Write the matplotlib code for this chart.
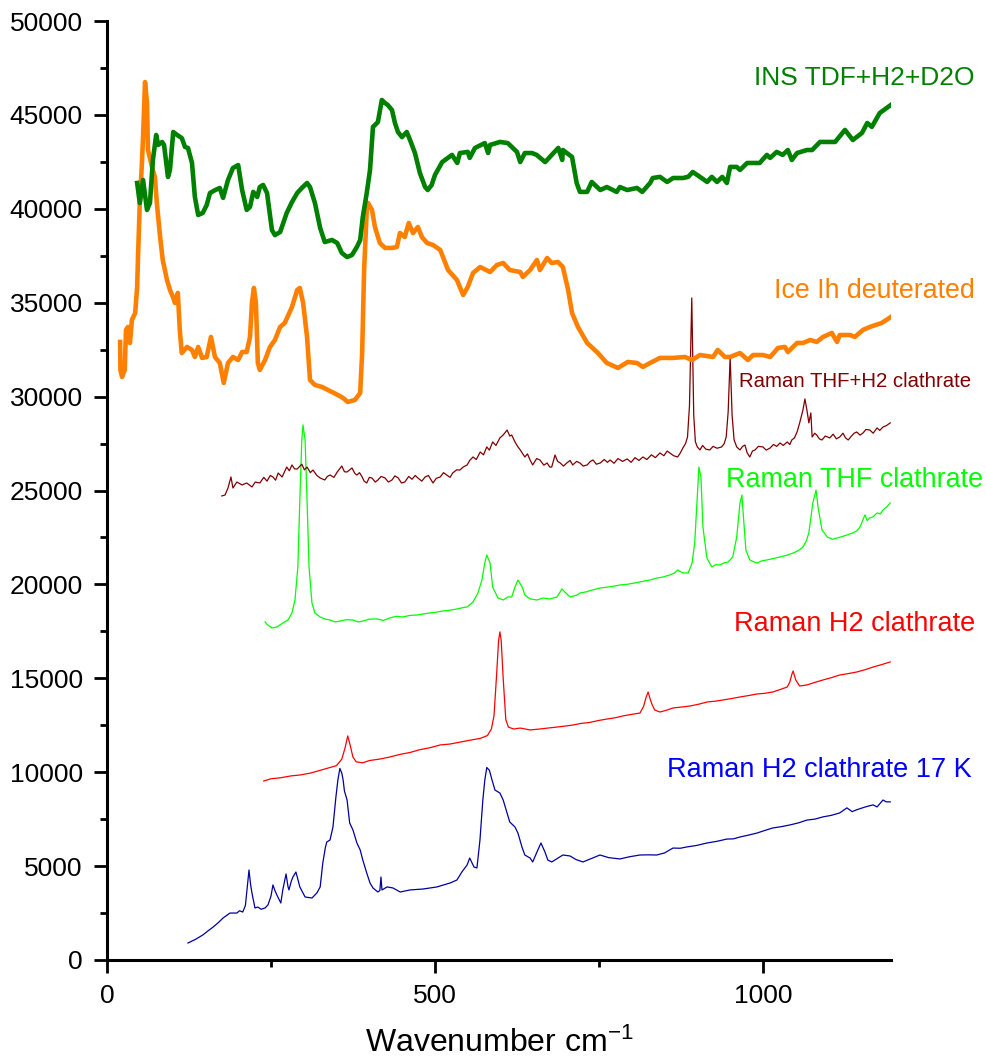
import matplotlib
matplotlib.use("Agg")
import matplotlib.pyplot as plt
from matplotlib.ticker import MultipleLocator

plt.rcParams['font.family'] = ['Liberation Sans', 'DejaVu Sans']
plt.rcParams['mathtext.default'] = 'regular'
plt.rcParams['axes.unicode_minus'] = False

# INS TDF+H2+D2O (green)
ins_x = [46, 50, 55, 61, 65.5, 70, 75, 78, 84, 87, 93, 96, 101, 107, 114, 119, 123.5, 129.6, 134, 139,
         146, 152, 157, 165, 172, 177, 184.5, 192, 200, 206, 213, 218, 223, 229, 233, 238, 244, 251.5, 256, 264,
         274, 282, 290, 297, 305, 309.5, 317, 325, 332, 343, 351, 358, 366, 373.5, 381, 386, 390, 396, 401, 405.5,
         411.6, 413, 419, 424, 428, 434.5, 439, 443.6, 449.7, 457, 462, 469.5, 477, 485, 489, 495, 500, 511, 526, 534,
         538, 550, 553, 561, 576, 581, 584, 599, 611, 625, 630, 637, 648, 655, 668, 678, 688, 694, 695, 709,
         716, 721, 732, 739, 752, 762, 777, 782, 793, 808, 816, 828, 832, 843, 854, 863, 878, 886, 893, 904,
         915, 922, 930, 938, 945, 950, 960, 965, 976, 995, 1006, 1011, 1021, 1030, 1038, 1044, 1052, 1067, 1075, 1087,
         1110, 1125, 1137, 1151, 1159, 1166, 1178, 1195]
ins_y = [41375, 40310, 41535, 39940, 40310, 42600, 43930, 43400, 43560, 43400, 41695, 42070, 44090, 43930, 43770, 43290, 43240, 42440, 40630, 39670,
         39780, 40200, 40840, 41000, 41110, 40580, 41535, 42170, 42330, 41000, 39940, 40100, 40900, 40630, 41160, 41270, 40840, 38870, 38600, 38765,
         39780, 40360, 40840, 41110, 41375, 41160, 40310, 38980, 38230, 38340, 38180, 37650, 37430, 37540, 37970, 38340, 39565, 40840, 42070, 44360,
         44570, 44620, 45795, 45630, 45530, 45260, 44570, 44090, 43820, 44090, 43665, 42970, 41910, 41160, 41000, 41270, 41800, 42490, 42870, 42440,
         42970, 43030, 42710, 43240, 43500, 42970, 43400, 43560, 43500, 43030, 42490, 42970, 42970, 42870, 42490, 42870, 43240, 42600, 43130, 42760,
         41375, 40900, 40900, 41430, 41000, 41160, 40900, 41160, 41000, 41110, 40900, 41375, 41640, 41700, 41430, 41640, 41640, 41700, 41960, 41700,
         41430, 41700, 41430, 41700, 41375, 42230, 42230, 42070, 42440, 42440, 42870, 42710, 43030, 42870, 43130, 42600, 42970, 43130, 43130, 43560,
         43560, 44200, 43665, 44040, 44570, 44360, 45100, 45530]

# Ice Ih deuterated (orange)
ice_x = [20, 20.5, 23, 27, 29, 32, 35, 38, 43, 46, 47.3, 50, 53, 55, 58, 61, 62.5, 68.6, 73, 76,
         81, 85, 91.5, 96, 100.6, 103.7, 108, 111, 114, 122, 129.6, 134, 139, 145, 152, 158.5, 164.6, 172, 178, 184.5,
         192, 200, 206, 213, 218, 221, 224, 227, 230, 233, 241, 248.5, 256, 264, 271, 282, 290, 294, 299, 305,
         309.5, 317, 328, 343, 352, 360, 367, 378, 386, 389, 392, 396, 398, 404, 408.5, 416, 424, 434.5, 442, 446.6,
         454, 460, 466.5, 474, 480, 488, 497, 508, 520, 533.5, 543, 550, 558, 569, 584, 594.5, 604, 614, 630, 634,
         645, 655.5, 660, 671, 678, 687.5, 695, 703, 709, 718, 732, 748.5, 762, 779, 794, 808, 817, 828, 843, 863,
         881, 892, 904, 924, 931, 942, 950, 965, 977, 985, 1000, 1011, 1023, 1033.5, 1038, 1052, 1061, 1072, 1082, 1091.5,
         1105, 1113, 1117, 1133, 1140, 1152.5, 1163, 1181, 1195]
ice_y = [32910, 31420, 31045, 31420, 33550, 33710, 32855, 34080, 34450, 35840, 37435, 40310, 42230, 43820, 46750, 45630, 43130, 42230, 41700, 40310,
         38500, 37275, 36210, 35680, 35300, 34985, 35520, 33550, 32320, 32645, 32485, 32110, 32645, 32060, 32110, 33175, 32110, 31790, 30725, 31790,
         32110, 31950, 32375, 32375, 33175, 34985, 35785, 34985, 31790, 31420, 31950, 32645, 33015, 33710, 33920, 34770, 35680, 35785, 34985, 33175,
         30885, 30620, 30510, 30245, 30085, 29925, 29715, 29820, 30195, 32320, 36740, 39940, 40310, 39940, 39030, 38180, 37915, 37915, 37970, 38710,
         38500, 39245, 38710, 39030, 38500, 38180, 38075, 37810, 36740, 36210, 35410, 35840, 36580, 36900, 36635, 37010, 37115, 36740, 36635, 36370,
         36740, 37275, 36740, 37380, 37115, 37170, 36900, 35680, 34450, 33710, 32855, 32320, 31790, 31525, 31845, 31790, 31580, 31790, 32060, 32060,
         32110, 31950, 32215, 32110, 32485, 32110, 32110, 32320, 31950, 32215, 32215, 32110, 32590, 32645, 32375, 32855, 32855, 33015, 32910, 33175,
         33390, 32910, 33280, 33280, 33175, 33550, 33710, 33920, 34240]

# Raman THF+H2 clathrate (dark red)
thfh2_x = [175, 180, 184.5, 189, 192, 198, 206, 213, 221, 226, 233, 239, 244, 249, 253, 257, 261, 267, 274, 278,
           282, 286, 290, 297, 301, 305, 310, 314, 320, 325, 332, 336, 340, 346, 351, 358, 362, 366, 373.5, 378,
           381, 385, 389, 392, 396, 400, 404, 409, 413, 418, 424, 429, 434.5, 439, 444, 449, 454, 460, 465, 470,
           474, 480, 485, 490, 497, 502, 508, 513, 518, 523, 527, 533, 538, 543, 549, 553, 558, 563, 569, 574,
           579, 583, 588, 593, 599, 604, 610, 614, 617, 622, 626, 630, 637, 641, 645, 649, 655, 660, 666, 671,
           675, 678, 683, 687, 691, 696, 701, 706, 710, 716, 721, 726, 732, 737, 741, 746, 752, 758, 763, 767,
           773, 779, 786, 793, 799, 805, 811, 817, 823, 830, 836, 843, 849, 854, 858, 864, 870, 874, 878, 882,
           885, 888, 891.5, 894.5, 897, 900, 904, 908, 913, 919, 924, 930, 937, 941, 944, 947, 950, 953, 956, 960,
           965, 969, 972.6, 976, 980, 984, 988, 993, 1000, 1005, 1011, 1016, 1021, 1026, 1031, 1037, 1041, 1044, 1048, 1052,
           1056, 1059, 1061, 1064, 1067, 1070, 1073, 1075, 1079, 1082, 1086, 1090, 1095, 1102, 1107, 1112, 1117, 1122, 1126, 1130,
           1135, 1139, 1143, 1148, 1152.5, 1157, 1163, 1168, 1174, 1178, 1183, 1188, 1194]
thfh2_y = [24710, 24760, 25135, 25720, 25135, 25450, 25295, 25400, 25190, 25450, 25400, 25700, 25500, 25800, 25720, 25550, 25930, 25720, 26250, 26050,
           26360, 26150, 26145, 26400, 26100, 26250, 25950, 26090, 25800, 25665, 25560, 25750, 25825, 25700, 25985, 26305, 26000, 25985, 26200, 25900,
           25825, 25950, 25720, 25500, 25400, 25700, 25665, 25450, 25560, 25750, 25665, 25450, 25560, 25780, 25665, 25400, 25450, 25750, 25600, 25800,
           25665, 25500, 25720, 25800, 25400, 25650, 25720, 25950, 25825, 25700, 25930, 26100, 26090, 26250, 26360, 26600, 26785, 26650, 27050, 26900,
           27320, 27150, 27585, 27400, 27800, 27955, 28220, 27900, 27955, 27585, 27350, 27160, 26785, 26950, 26625, 26360, 26700, 26625, 26350, 26465,
           26250, 26250, 26890, 26550, 26465, 26300, 26465, 26600, 26360, 26550, 26465, 26300, 26360, 26550, 26625, 26400, 26465, 26650, 26500, 26625,
           26450, 26700, 26550, 26680, 26500, 26750, 26600, 26785, 26650, 26900, 26750, 27000, 26850, 27100, 27000, 26850, 26785, 27000, 27265, 27500,
           27850, 29500, 35250, 29000, 27600, 27320, 27160, 27400, 27200, 27160, 27350, 27250, 27320, 27500, 27850, 29200, 32110, 29000, 27700, 27320,
           27160, 27350, 27420, 27000, 26785, 27100, 27160, 27350, 27320, 27150, 27265, 27450, 27350, 27530, 27400, 27585, 27450, 27690, 27800, 28115,
           28600, 29000, 29290, 29875, 29290, 28600, 29130, 27850, 28050, 27955, 27750, 27690, 27900, 27800, 28000, 27750, 27850, 28050, 27800, 27690,
           27900, 28050, 28115, 27950, 28060, 28250, 28220, 28050, 28330, 28200, 28380, 28450, 28600]

# Raman THF clathrate (lime)
thf_x = [241, 245, 251.5, 259, 268, 276, 282, 286.6, 291, 294, 297, 298.8, 302, 305, 308, 312.5, 317, 325, 333, 340,
         348, 355, 365, 375, 383, 390, 400, 412, 421, 431, 441, 451, 462, 473, 482, 492, 502, 512, 522, 533.5,
         542, 549, 558, 565.5, 571.6, 576, 579, 584, 588, 596, 604, 611, 617, 622, 626.5, 633, 637, 645, 655.5, 665,
         675, 686, 693.6, 698, 706, 716.5, 721, 730, 740, 752, 762, 772, 782, 792, 802, 812.5, 822, 830, 838, 846,
         858, 865, 870, 878, 886, 892, 896, 899.4, 902.4, 905.5, 908.5, 914.6, 922, 928, 934.5, 941, 947, 954, 960, 965,
         968, 969.5, 974, 980, 986, 991, 998, 1006, 1016, 1026, 1036, 1046, 1054, 1061, 1066, 1070, 1076, 1081, 1084, 1090,
         1098, 1106, 1113, 1121, 1128, 1137, 1143, 1148, 1155.5, 1159, 1163, 1168, 1174, 1179, 1183, 1188, 1194]
thf_y = [18000, 17840, 17680, 17730, 17945, 18105, 18480, 19170, 20930, 24495, 27690, 28490, 27690, 24495, 20930, 19010, 18480, 18265, 18150, 18105,
         18000, 18050, 18120, 18105, 18000, 18050, 18150, 18160, 18080, 18210, 18300, 18265, 18350, 18370, 18420, 18480, 18520, 18585, 18620, 18690,
         18760, 18800, 19065, 19540, 20235, 21140, 21565, 21140, 19860, 19275, 19170, 19330, 19330, 19860, 20235, 19860, 19435, 19225, 19170, 19275,
         19225, 19330, 19755, 19595, 19330, 19435, 19540, 19600, 19700, 19810, 19850, 19900, 19970, 20000, 20060, 20130, 20200, 20250, 20340, 20380,
         20500, 20600, 20765, 20610, 20610, 21140, 22205, 24335, 26250, 25720, 23060, 21405, 20930, 21050, 21035, 21150, 21195, 21460, 22525, 24335,
         24760, 23965, 21830, 21300, 21200, 21140, 21250, 21300, 21380, 21460, 21550, 21670, 21800, 21990, 22300, 22740, 24335, 25025, 24120, 22900,
         22525, 22400, 22470, 22550, 22630, 22740, 22850, 23060, 23700, 23400, 23540, 23600, 23805, 23750, 23965, 24100, 24335]

# Raman H2 clathrate (red)
h2_x = [239, 250, 264, 280, 294, 310, 325, 340, 350, 358, 363, 367, 371, 375, 380, 390, 400, 416, 430, 447,
        462, 477, 492, 508, 523, 538, 553, 569, 580, 586, 590, 594, 597, 599, 601, 604, 608, 612, 620, 630,
        645, 660, 672, 685, 697, 710, 723, 736, 749, 762, 775, 787, 800, 812.5, 818, 822, 825, 828, 831, 835,
        843, 853, 863, 876, 889, 902, 915, 927, 939, 952, 965, 978, 991, 1003, 1015, 1026, 1037, 1041, 1044, 1046,
        1048, 1050, 1056, 1067, 1079, 1091.5, 1104, 1117, 1130, 1143, 1155, 1168, 1181, 1194]
h2_y = [9530, 9650, 9700, 9800, 9850, 9950, 10100, 10250, 10350, 10700, 11300, 11930, 11400, 10800, 10550, 10500, 10620, 10700, 10800, 10950,
        11050, 11200, 11300, 11450, 11500, 11600, 11700, 11800, 11950, 12300, 13000, 15200, 17000, 17470, 17000, 15000, 12800, 12400, 12300, 12350,
        12250, 12300, 12350, 12400, 12450, 12510, 12600, 12650, 12750, 12830, 12900, 13000, 13080, 13150, 13500, 14000, 14270, 13900, 13600, 13310,
        13205, 13300, 13420, 13470, 13525, 13620, 13740, 13780, 13845, 13920, 14005, 14080, 14165, 14200, 14270, 14400, 14535, 14800, 15200, 15390,
        15150, 14910, 14590, 14645, 14780, 14910, 15030, 15175, 15250, 15335, 15450, 15600, 15730, 15870]

# Raman H2 clathrate 17 K (blue)
h2k_x = [123.5, 135, 146, 154, 162, 170, 177, 187.5, 198, 202, 207, 211, 213.4, 216.5, 219, 221, 225.6, 230, 235, 241,
         245.4, 250, 253, 256, 259, 265, 268, 273, 276, 277.4, 281, 283.5, 288, 291, 294, 302, 312.5, 320, 325, 329,
         333, 335, 340, 344.5, 349, 352, 355, 358, 360, 362, 366, 370, 375, 381, 386, 390, 396, 401, 405.5, 413,
         416, 417.7, 419.2, 427, 436, 447, 462, 482, 503, 523, 533.5, 541, 549, 553, 559.5, 564, 568.6, 573, 576, 579,
         583, 587, 591.5, 599, 604, 614, 622, 626.5, 632.6, 637, 645, 649, 655.5, 661.6, 667.7, 672, 678, 687.5, 695, 705.8,
         715, 725.6, 738, 751.5, 765, 782, 797, 812.5, 825, 838, 850, 862.8, 874, 884, 899, 914.6, 930, 945, 955, 965,
         978, 991, 1003, 1015, 1028, 1041, 1054, 1067, 1079, 1091.5, 1104, 1117, 1128, 1136, 1143, 1156, 1168, 1174, 1183, 1188,
         1194]
h2k_y = [905, 1100, 1330, 1550, 1760, 2000, 2235, 2500, 2500, 2620, 2555, 2900, 3730, 4790, 4000, 3570, 2770, 2820, 2700, 2770,
         2930, 3400, 3995, 3700, 3460, 3035, 3730, 4580, 3900, 3730, 4200, 4420, 4685, 4300, 3890, 3355, 3300, 3570, 3890, 5165,
         6000, 6280, 6390, 7080, 8680, 9585, 10200, 9950, 9585, 9000, 8520, 7295, 6920, 6230, 5860, 5325, 4630, 4100, 3835, 3620,
         3700, 4420, 3730, 3890, 3835, 3620, 3730, 3780, 3890, 4100, 4260, 4685, 5060, 5430, 4950, 4900, 6390, 8520, 9585, 10250,
         10100, 9585, 9050, 8890, 8520, 7350, 7080, 6760, 6020, 5590, 5430, 5220, 5750, 6230, 5750, 5325, 5220, 5430, 5590, 5540,
         5350, 5220, 5400, 5590, 5450, 5380, 5500, 5590, 5600, 5590, 5700, 5960, 5950, 6020, 6100, 6230, 6320, 6440, 6450, 6550,
         6650, 6760, 6900, 7030, 7100, 7190, 7300, 7450, 7500, 7620, 7700, 7830, 8100, 7900, 8000, 8150, 8260, 8150, 8520, 8420,
         8420]

fig = plt.figure(figsize=(9.86, 10.61), dpi=100)
ax = fig.add_axes([0.1085, 0.0952, 0.795, 0.885])

ax.plot(h2k_x, h2k_y, color="#0000A0", lw=0.9)
ax.plot(h2_x, h2_y, color="#FF0000", lw=0.9)
ax.plot(thf_x, thf_y, color="#00FF00", lw=0.9)
ax.plot(thfh2_x, thfh2_y, color="#800000", lw=0.9)
ax.plot(ice_x, ice_y, color="#FF8000", lw=3.3)
ax.plot(ins_x, ins_y, color="#008000", lw=3.3)

ax.text(1323, 46970, "INS TDF+H2+D2O", color="#008000", fontsize=19, ha="right", va="center")
ax.text(1323, 35625, "Ice Ih deuterated", color="#FF8000", fontsize=19.3, ha="right", va="center")
ax.text(1318, 30830, "Raman THF+H2 clathrate", color="#800000", fontsize=14.7, ha="right", va="center")
ax.text(1335, 25560, "Raman THF clathrate", color="#00FF00", fontsize=19.4, ha="right", va="center")
ax.text(1323, 17890, "Raman H2 clathrate", color="#FF0000", fontsize=19.5, ha="right", va="center")
ax.text(1318, 10120, "Raman H2 clathrate 17 K", color="#0000FF", fontsize=19.5, ha="right", va="center")

ax.set_xlim(0, 1195)
ax.set_ylim(0, 50000)
ax.spines["top"].set_visible(False)
ax.spines["right"].set_visible(False)
ax.spines["left"].set_linewidth(2.2)
ax.spines["bottom"].set_linewidth(2.2)
ax.xaxis.set_major_locator(MultipleLocator(500))
ax.xaxis.set_minor_locator(MultipleLocator(250))
ax.yaxis.set_major_locator(MultipleLocator(5000))
ax.yaxis.set_minor_locator(MultipleLocator(2500))
ax.tick_params(which="major", direction="out", length=9.5, width=2, labelsize=19, pad=8)
ax.tick_params(which="minor", direction="out", length=5, width=2)
ax.set_xlabel("Wavenumber cm$^{-1}$", fontsize=23, labelpad=14)

fig.savefig("out.png", dpi=100)
